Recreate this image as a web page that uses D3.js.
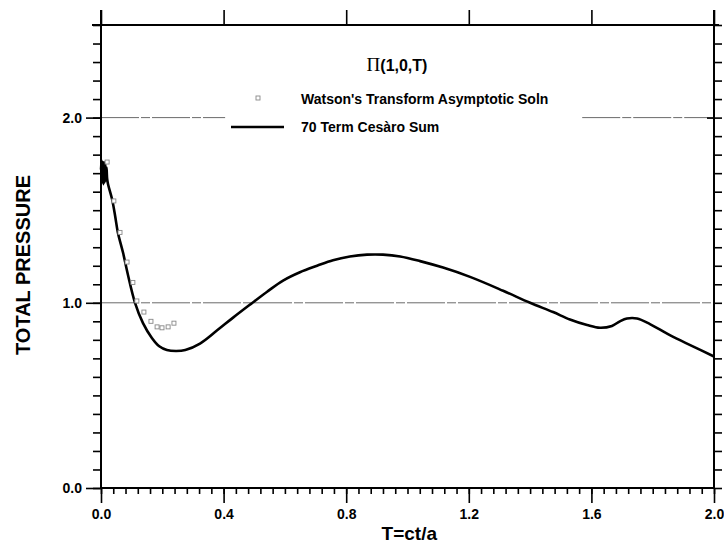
<!DOCTYPE html>
<html>
<head>
<meta charset="utf-8">
<script src="https://cdn.jsdelivr.net/npm/d3@7/dist/d3.min.js"></script>
<style>
  html, body { margin: 0; padding: 0; background: #fff; }
  svg { display: block; }
  text { font-family: "Liberation Sans", Arial, Helvetica, sans-serif; font-weight: bold; fill: #000; }
</style>
</head>
<body>
<svg id="chart" width="724" height="545"></svg>
<script>
// 70-term Cesaro sum of the total pressure Pi(1,0,T)
const cesaroT = [0, 0.002, 0.004, 0.006, 0.008, 0.010, 0.012, 0.014, 0.016, 0.018, 0.020, 0.023,
  0.036, 0.046, 0.055, 0.072, 0.088, 0.111, 0.137, 0.166, 0.190, 0.215, 0.245, 0.275,
  0.323, 0.378, 0.431, 0.486, 0.542, 0.594, 0.649, 0.705, 0.757, 0.812, 0.868, 0.920,
  0.976, 1.041, 1.116, 1.204, 1.312, 1.400, 1.475, 1.530, 1.586, 1.628, 1.667, 1.693,
  1.716, 1.749, 1.791, 1.856, 1.931, 2.000];
const cesaroP = [1.72, 1.77, 1.65, 1.76, 1.64, 1.76, 1.65, 1.75, 1.66, 1.73, 1.67, 1.64,
  1.56, 1.47, 1.38, 1.27, 1.15, 1.00, 0.89, 0.81, 0.765, 0.745, 0.74, 0.745,
  0.78, 0.85, 0.92, 0.99, 1.06, 1.12, 1.165, 1.20, 1.23, 1.25, 1.26, 1.26,
  1.25, 1.225, 1.19, 1.14, 1.065, 1.00, 0.95, 0.91, 0.88, 0.865, 0.875, 0.90,
  0.915, 0.915, 0.885, 0.825, 0.765, 0.71];

// Watson's transform asymptotic solution (early times only)
const watsonT = [0.020, 0.042, 0.062, 0.085, 0.104, 0.117, 0.140, 0.163, 0.183, 0.199, 0.219, 0.238];
const watsonP = [1.76, 1.55, 1.38, 1.22, 1.11, 1.01, 0.95, 0.90, 0.87, 0.865, 0.87, 0.89];

// Axis ticks
const xMajor = [0, 0.4, 0.8, 1.2, 1.6, 2.0];
const xMinor = d3.range(0, 51).map(i => +(i * 0.04).toFixed(2));
const yMajor = [0, 1, 2];
const yMinor = d3.range(0, 26).map(i => +(i * 0.1).toFixed(1));

const titleSymbol = "\u03A0";
const titleArgs = "(1,0,T)";
const legendWatson = "Watson's Transform Asymptotic Soln";
const legendCesaro = "70 Term Ces\u00E0ro Sum";
const xLabel = "T=ct/a";
const yLabel = "TOTAL PRESSURE";

const svg = d3.select("#chart");
const L = 101, R = 714, T = 25, B = 488;

const x = d3.scaleLinear().domain([0, 2]).range([L, R]);
const y = d3.scaleLinear().domain([0, 2.5]).range([B, T]);

const fmt = d3.format(".1f");

// Reference lines at 1.0 and 2.0
const refStyle = g => g.attr("stroke", "#5a5a5a").attr("stroke-width", 0.9).attr("stroke-dasharray", "38,2,9,2");
svg.append("line").attr("x1", x(0)).attr("x2", x(2)).attr("y1", y(1)).attr("y2", y(1)).call(refStyle);
svg.append("line").attr("x1", x(0)).attr("x2", x(0.405)).attr("y1", y(2)).attr("y2", y(2)).call(refStyle);
svg.append("line").attr("x1", x(1.57)).attr("x2", x(2)).attr("y1", y(2)).attr("y2", y(2)).call(refStyle);

// Axes
function styleAxis(g) {
  g.select(".domain").remove();
  g.selectAll(".tick line").attr("stroke", "#000").attr("stroke-width", 1.6);
  g.selectAll(".tick text").style("font-size", "14px").style("font-weight", "bold");
}

svg.append("g").attr("transform", `translate(0,${B})`)
  .call(d3.axisBottom(x).tickValues(xMinor).tickSize(6).tickFormat(""))
  .call(styleAxis);
svg.append("g").attr("transform", `translate(0,${B})`)
  .call(d3.axisBottom(x).tickValues(xMajor).tickSize(15).tickPadding(6).tickFormat(fmt))
  .call(styleAxis);

svg.append("g").attr("transform", `translate(0,${T})`)
  .call(d3.axisTop(x).tickValues(xMajor).tickSize(15).tickFormat(""))
  .call(styleAxis);

svg.append("g").attr("transform", `translate(${L},0)`)
  .call(d3.axisLeft(y).tickValues(yMinor).tickSize(8).tickFormat(""))
  .call(styleAxis);
svg.append("g").attr("transform", `translate(${L},0)`)
  .call(d3.axisLeft(y).tickValues(yMajor).tickSize(15).tickPadding(4).tickFormat(fmt))
  .call(styleAxis);

svg.append("g").attr("transform", `translate(${R},0)`)
  .call(d3.axisRight(y).tickValues(yMinor).tickSize(8).tickFormat(""))
  .call(styleAxis);
svg.append("g").attr("transform", `translate(${R},0)`)
  .call(d3.axisLeft(y).tickValues([2]).tickSize(7).tickFormat(""))
  .call(styleAxis);

// Frame
const frame = svg.append("g").attr("stroke", "#000").attr("stroke-width", 2);
frame.append("line").attr("x1", L).attr("x2", L).attr("y1", T - 15).attr("y2", B);
frame.append("line").attr("x1", R).attr("x2", R).attr("y1", T - 15).attr("y2", B);
frame.append("line").attr("x1", L - 9).attr("x2", R + 5).attr("y1", T).attr("y2", T);
frame.append("line").attr("x1", L).attr("x2", R).attr("y1", B).attr("y2", B);

// Cesaro sum curve
const cesaro = cesaroT.map((t, i) => [t, cesaroP[i]]);
const line = d3.line().x(d => x(d[0])).y(d => y(d[1])).curve(d3.curveCatmullRom.alpha(0.5));
svg.append("path").datum(cesaro)
  .attr("d", line)
  .attr("fill", "none").attr("stroke", "#000").attr("stroke-width", 2.6)
  .attr("stroke-linejoin", "round");

// Watson markers
const watson = watsonT.map((t, i) => [t, watsonP[i]]);
svg.append("g").selectAll("rect").data(watson).join("rect")
  .attr("x", d => x(d[0]) - 2).attr("y", d => y(d[1]) - 2)
  .attr("width", 4).attr("height", 4)
  .attr("fill", "#fff").attr("stroke", "#888").attr("stroke-width", 0.9);

// Title and legend
const title = svg.append("text").attr("x", 397).attr("y", 71).attr("text-anchor", "middle")
  .style("font-size", "16px");
title.append("tspan").text(titleSymbol)
  .style("font-family", "'Liberation Serif', 'Times New Roman', serif").style("font-weight", "normal").style("font-size", "19px");
title.append("tspan").text(titleArgs);

svg.append("rect").attr("x", 256).attr("y", 96).attr("width", 4).attr("height", 4)
  .attr("fill", "#fff").attr("stroke", "#888").attr("stroke-width", 0.9);
svg.append("text").attr("x", 301).attr("y", 104).style("font-size", "14px").text(legendWatson);

svg.append("line").attr("x1", 231).attr("x2", 284).attr("y1", 127).attr("y2", 127)
  .attr("stroke", "#000").attr("stroke-width", 2.6);
svg.append("text").attr("x", 301).attr("y", 132).style("font-size", "14px").text(legendCesaro);

// Axis titles
svg.append("text").attr("x", 437).attr("y", 540).attr("text-anchor", "end")
  .style("font-size", "19px").text(xLabel);
svg.append("text").attr("transform", "translate(30,265) rotate(-90)").attr("text-anchor", "middle")
  .style("font-size", "20px").text(yLabel);
</script>
</body>
</html>
